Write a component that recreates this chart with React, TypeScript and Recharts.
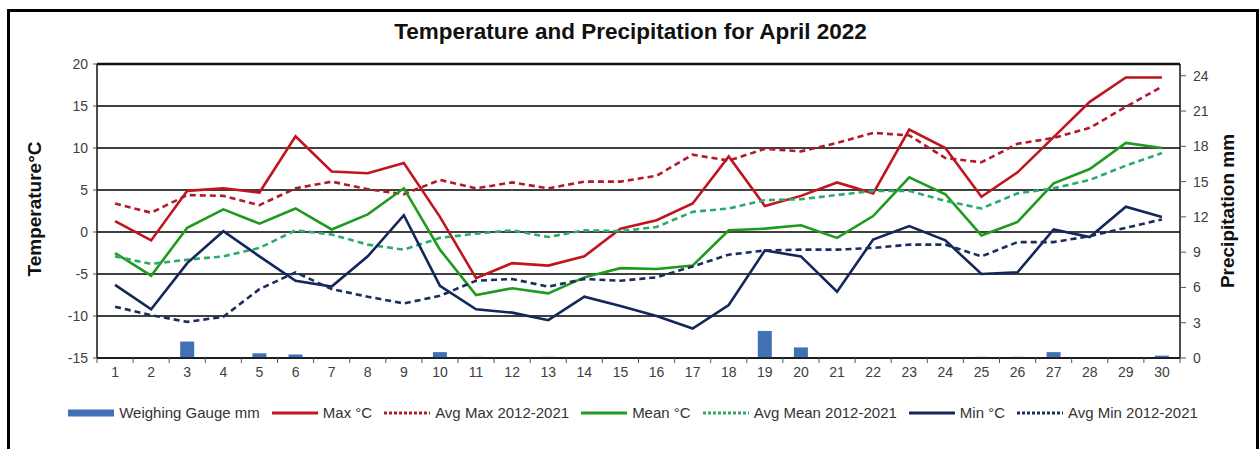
import type { ReactElement } from "react";
import { ComposedChart, Bar, Line, XAxis, YAxis, CartesianGrid, ReferenceLine } from "recharts";

const DAYS = [
    "1", "2", "3", "4", "5", "6", "7", "8", "9", "10",
    "11", "12", "13", "14", "15", "16", "17", "18", "19", "20",
    "21", "22", "23", "24", "25", "26", "27", "28", "29", "30",
];

// Weighing gauge precipitation, mm
const PRECIP_MM = [
    0, 0, 1.4, 0, 0.4, 0.3, 0, 0, 0, 0.5,
    0.1, 0, 0.1, 0, 0, 0, 0, 0, 2.3, 0.9,
    0, 0, 0, 0, 0.1, 0.1, 0.5, 0, 0, 0.2,
];

const MAX_C = [
    1.3, -1.0, 4.9, 5.2, 4.7, 11.4, 7.2, 7.0, 8.2, 1.8,
    -5.5, -3.7, -4.0, -2.9, 0.4, 1.4, 3.4, 9.0, 3.1, 4.3,
    5.9, 4.6, 12.2, 10.0, 4.2, 7.1, 11.3, 15.5, 18.4, 18.4,
];

const AVG_MAX_C = [
    3.4, 2.3, 4.4, 4.3, 3.2, 5.2, 6.0, 5.1, 4.5, 6.2,
    5.2, 5.9, 5.2, 6.0, 6.0, 6.7, 9.2, 8.5, 9.9, 9.6,
    10.6, 11.8, 11.5, 8.8, 8.3, 10.5, 11.2, 12.4, 14.9, 17.3,
];

const MEAN_C = [
    -2.5, -5.2, 0.5, 2.7, 1.0, 2.8, 0.3, 2.1, 5.2, -2.1,
    -7.5, -6.7, -7.3, -5.4, -4.3, -4.4, -4.0, 0.2, 0.4, 0.8,
    -0.7, 1.9, 6.5, 4.5, -0.4, 1.2, 5.8, 7.5, 10.6, 10.0,
];

const AVG_MEAN_C = [
    -2.9, -3.8, -3.3, -2.9, -1.9, 0.2, -0.3, -1.5, -2.1, -0.7,
    -0.2, 0.2, -0.6, 0.2, 0.1, 0.6, 2.4, 2.8, 3.8, 3.9,
    4.4, 4.9, 4.9, 3.7, 2.8, 4.6, 5.2, 6.2, 7.9, 9.4,
];

const MIN_C = [
    -6.3, -9.2, -3.7, 0.1, -2.9, -5.8, -6.5, -2.9, 2.0, -6.4,
    -9.2, -9.6, -10.5, -7.7, -8.8, -10.0, -11.5, -8.7, -2.2, -2.9,
    -7.1, -0.9, 0.7, -1.0, -5.0, -4.8, 0.3, -0.6, 3.0, 1.8,
];

const AVG_MIN_C = [
    -8.9, -9.9, -10.7, -10.1, -6.8, -4.8, -6.8, -7.7, -8.5, -7.6,
    -5.8, -5.6, -6.5, -5.6, -5.8, -5.4, -4.1, -2.7, -2.2, -2.1,
    -2.1, -1.9, -1.5, -1.5, -2.9, -1.2, -1.2, -0.5, 0.5, 1.5,
];

const TEMP_TICKS = [-15, -10, -5, 0, 5, 10, 15, 20];
const PRECIP_TICKS = [0, 3, 6, 9, 12, 15, 18, 21, 24];

const BAR_COLOR = "#4170B4";

const SERIES = [
    { key: "max", name: "Max °C", color: "#C0151F", dashed: false, values: MAX_C },
    { key: "avgMax", name: "Avg Max 2012-2021", color: "#B3182D", dashed: true, values: AVG_MAX_C },
    { key: "mean", name: "Mean °C", color: "#1F9A1F", dashed: false, values: MEAN_C },
    { key: "avgMean", name: "Avg Mean 2012-2021", color: "#2BAA6C", dashed: true, values: AVG_MEAN_C },
    { key: "min", name: "Min °C", color: "#14275A", dashed: false, values: MIN_C },
    { key: "avgMin", name: "Avg Min 2012-2021", color: "#1B2C5E", dashed: true, values: AVG_MIN_C },
];

const data = DAYS.map((day, i) => {
    const row: Record<string, string | number> = { day, precip: PRECIP_MM[i] };
    SERIES.forEach((s) => {
        row[s.key] = s.values[i];
    });
    return row;
});

const WIDTH = 1259;
const HEIGHT = 449;
const PLOT_LEFT = 97;
const PLOT_RIGHT = 1180;
const PLOT_TOP = 64;
const PLOT_BOTTOM = 358;
const X_AXIS_HEIGHT = 30;
const BAND = (PLOT_RIGHT - PLOT_LEFT) / DAYS.length;
const FONT = '"Liberation Sans", Arial, sans-serif';
const DASH = "6 4";

// Day labels centred on each category, tick marks on the category boundaries
function DayTick(props: any): ReactElement {
    const { x, payload, index } = props;
    const half = BAND / 2;
    return (
        <g>
            <line x1={x - half} x2={x - half} y1={PLOT_BOTTOM} y2={PLOT_BOTTOM + 5} stroke="#555" />
            {index === DAYS.length - 1 && (
                <line x1={x + half} x2={x + half} y1={PLOT_BOTTOM} y2={PLOT_BOTTOM + 5} stroke="#555" />
            )}
            <text x={x} y={PLOT_BOTTOM + 9} dy="0.71em" textAnchor="middle" fontSize={14} fill="#404040" fontFamily={FONT}>
                {payload.value}
            </text>
        </g>
    );
}

function LegendSwatch({ color, dashed, bar }: { color: string; dashed?: boolean; bar?: boolean }): ReactElement {
    return (
        <svg width={46} height={10} style={{ display: "block" }}>
            {bar ? (
                <rect x={0} y={1.5} width={46} height={7} fill={color} />
            ) : (
                <line x1={0} x2={46} y1={5} y2={5} stroke={color} strokeWidth={3} strokeDasharray={dashed ? "3 2" : undefined} />
            )}
        </svg>
    );
}

const axisTitle = {
    position: "absolute" as const,
    transform: "translate(-50%, -50%) rotate(-90deg)",
    whiteSpace: "nowrap" as const,
    fontSize: 19,
    fontWeight: "bold" as const,
    color: "#111",
};

export default function App(): ReactElement {
    return (
        <div style={{ position: "absolute", left: 0, top: 0, width: WIDTH, height: HEIGHT, overflow: "hidden", background: "#fff", fontFamily: FONT }}>
            <div style={{ position: "absolute", left: 7, top: 9, width: 1252, height: 480, border: "3px solid #000", boxSizing: "border-box" }} />

            <div style={{ position: "absolute", left: 0, top: 19, width: WIDTH, textAlign: "center", fontSize: 22.5, fontWeight: "bold", color: "#111", paddingLeft: 2, boxSizing: "border-box" }}>
                Temperature and Precipitation for April 2022
            </div>

            <ComposedChart
                width={WIDTH}
                height={HEIGHT}
                data={data}
                margin={{ top: PLOT_TOP, right: 0, bottom: HEIGHT - PLOT_BOTTOM - X_AXIS_HEIGHT, left: 0 }}
                barCategoryGap={0}
            >
                <CartesianGrid yAxisId="temp" vertical={false} stroke="#000" strokeWidth={1.3} />
                <XAxis dataKey="day" height={X_AXIS_HEIGHT} interval={0} tickLine={false} tick={<DayTick />} axisLine={{ stroke: "#111", strokeWidth: 1.5 }} />
                <YAxis
                    yAxisId="temp"
                    orientation="left"
                    width={PLOT_LEFT}
                    domain={[-15, 20]}
                    ticks={TEMP_TICKS}
                    interval={0}
                    tickSize={4}
                    tickMargin={5}
                    tick={{ fontSize: 14, fill: "#404040", fontFamily: FONT }}
                    tickLine={{ stroke: "#555" }}
                    axisLine={{ stroke: "#111", strokeWidth: 1.5 }}
                />
                <YAxis
                    yAxisId="precip"
                    orientation="right"
                    width={WIDTH - PLOT_RIGHT}
                    domain={[0, 25]}
                    ticks={PRECIP_TICKS}
                    interval={0}
                    tickSize={6}
                    tickMargin={7}
                    tick={{ fontSize: 14, fill: "#404040", fontFamily: FONT }}
                    tickLine={{ stroke: "#555" }}
                    axisLine={{ stroke: "#111", strokeWidth: 1.5 }}
                />
                <ReferenceLine yAxisId="temp" y={20} stroke="#111" strokeWidth={2.5} />
                <Bar yAxisId="precip" dataKey="precip" name="Weighing Gauge mm" fill={BAR_COLOR} barSize={14} isAnimationActive={false} />
                {SERIES.map((s) => (
                    <Line
                        key={s.key}
                        yAxisId="temp"
                        type="linear"
                        dataKey={s.key}
                        name={s.name}
                        stroke={s.color}
                        strokeWidth={2.6}
                        strokeDasharray={s.dashed ? DASH : undefined}
                        dot={false}
                        activeDot={false}
                        isAnimationActive={false}
                    />
                ))}
            </ComposedChart>

            <div style={{ ...axisTitle, left: 35, top: 209 }}>Temperature°C</div>
            <div style={{ ...axisTitle, left: 1228, top: 211 }}>Precipitation mm</div>

            <div
                style={{
                    position: "absolute",
                    left: 0,
                    top: 404,
                    width: WIDTH,
                    paddingLeft: 7,
                    boxSizing: "border-box",
                    display: "flex",
                    justifyContent: "center",
                    alignItems: "center",
                    fontSize: 15,
                    color: "#333",
                    whiteSpace: "nowrap",
                }}
            >
                <div style={{ display: "flex", alignItems: "center", marginRight: 12 }}>
                    <LegendSwatch color={BAR_COLOR} bar />
                    <span style={{ marginLeft: 5 }}>Weighing Gauge mm</span>
                </div>
                {SERIES.map((s, i) => (
                    <div key={s.key} style={{ display: "flex", alignItems: "center", marginRight: i === SERIES.length - 1 ? 0 : 12 }}>
                        <LegendSwatch color={s.color} dashed={s.dashed} />
                        <span style={{ marginLeft: 5 }}>{s.name}</span>
                    </div>
                ))}
            </div>
        </div>
    );
}
